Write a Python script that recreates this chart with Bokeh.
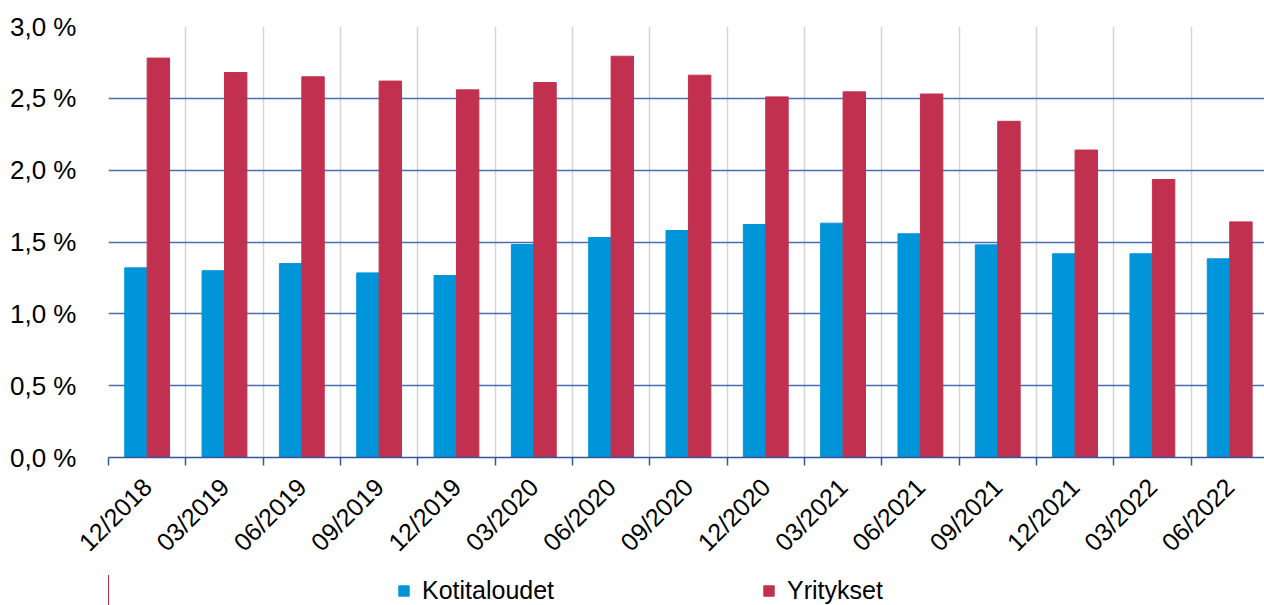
import math
from bokeh.plotting import figure
from bokeh.layouts import column
from bokeh.models import ColumnDataSource, FixedTicker, Range1d, Legend, LegendItem
from bokeh.transform import dodge
from bokeh.embed import file_html
from bokeh.resources import INLINE

categories = ["12/2018", "03/2019", "06/2019", "09/2019", "12/2019", "03/2020", "06/2020",
              "09/2020", "12/2020", "03/2021", "06/2021", "09/2021", "12/2021", "03/2022", "06/2022"]
kotitaloudet = [1.32, 1.30, 1.35, 1.285, 1.267, 1.483, 1.531, 1.58, 1.622, 1.631, 1.557, 1.48, 1.418, 1.418, 1.383]
yritykset = [2.78, 2.68, 2.65, 2.62, 2.559, 2.61, 2.793, 2.661, 2.51, 2.545, 2.53, 2.34, 2.14, 1.935, 1.64]
series_names = ["Kotitaloudet", "Yritykset"]
y_ticks = [0.0, 0.5, 1.0, 1.5, 2.0, 2.5, 3.0]

BLUE = "#0095D9"
RED = "#C1314F"
FONT = "Liberation Sans"

xs = list(range(len(categories)))
src = ColumnDataSource(dict(x=xs, k=kotitaloudet, y=yritykset))

p = figure(width=1264, height=575,
           x_range=Range1d(-0.5, 14.45), y_range=Range1d(0, 3.0),
           output_backend="svg", toolbar_location=None,
           min_border_left=108, min_border_right=0, min_border_top=26, min_border_bottom=118)
p.outline_line_color = None
p.background_fill_color = "white"
p.border_fill_color = "white"

p.vbar(x=dodge("x", -0.145, range=p.x_range), top="k", width=0.29, source=src,
       fill_color=BLUE, line_color=BLUE)
p.vbar(x=dodge("x", 0.145, range=p.x_range), top="y", width=0.29, source=src,
       fill_color=RED, line_color=RED)

bounds = [i - 0.5 for i in range(len(categories) + 1)]

# x axis
p.xaxis.ticker = FixedTicker(ticks=xs, minor_ticks=bounds)
p.xaxis.major_label_overrides = {i: c for i, c in enumerate(categories)}
p.xaxis.major_label_orientation = math.pi / 4
p.xaxis.major_tick_out = 0
p.xaxis.major_tick_in = 0
p.xaxis.minor_tick_out = 8
p.xaxis.minor_tick_in = 0
p.xaxis.minor_tick_line_color = "#34559B"
p.xaxis.minor_tick_line_width = 1.5
p.xaxis.axis_line_color = "#34559B"
p.xaxis.axis_line_width = 1.5
p.xaxis.major_label_text_font = FONT
p.xaxis.major_label_text_font_size = "25px"
p.xaxis.major_label_text_color = "black"
p.xaxis.major_label_standoff = 17
p.xaxis.axis_label_standoff = 0

# y axis
p.yaxis.ticker = FixedTicker(ticks=y_ticks)
p.yaxis.major_label_overrides = {t: f"{t:.1f} %".replace(".", ",") for t in y_ticks}
p.yaxis.axis_line_color = None
p.yaxis.major_tick_line_color = None
p.yaxis.minor_tick_line_color = None
p.yaxis.major_label_text_font = FONT
p.yaxis.major_label_text_font_size = "26px"
p.yaxis.major_label_text_color = "black"
p.yaxis.major_label_standoff = 26

# grids
p.xgrid.ticker = FixedTicker(ticks=bounds)
p.xgrid.grid_line_color = "#D4D4D4"
p.xgrid.grid_line_width = 1.5
p.ygrid.ticker = FixedTicker(ticks=y_ticks[1:])
p.ygrid.grid_line_color = "#4A6DB0"
p.ygrid.grid_line_width = 1.5

# legend strip below the chart (its bars lie outside its visible range; only the legend shows)
lg = figure(width=1264, height=30, x_range=Range1d(100, 101), y_range=Range1d(0, 1),
            x_axis_type=None, y_axis_type=None,
            output_backend="svg", toolbar_location=None,
            min_border_left=0, min_border_right=0, min_border_top=0, min_border_bottom=0)
lg.outline_line_color = None
lg.xgrid.visible = False
lg.ygrid.visible = False
l1 = lg.vbar(x="x", top="k", width=0.29, source=src, fill_color=BLUE, line_color=BLUE)
l2 = lg.vbar(x="x", top="y", width=0.29, source=src, fill_color=RED, line_color=RED)

legend = Legend(items=[LegendItem(label=series_names[0], renderers=[l1]),
                       LegendItem(label=series_names[1], renderers=[l2])],
                orientation="horizontal", spacing=208, label_standoff=12,
                glyph_width=13, glyph_height=13,
                label_text_font=FONT, label_text_font_size="25px",
                label_text_color="black",
                border_line_color=None, background_fill_alpha=0,
                padding=0, margin=0, location=(289, 0))
lg.add_layout(legend, "center")

layout = column(p, lg, spacing=0)
open("out.html", "w").write(file_html(layout, INLINE))
